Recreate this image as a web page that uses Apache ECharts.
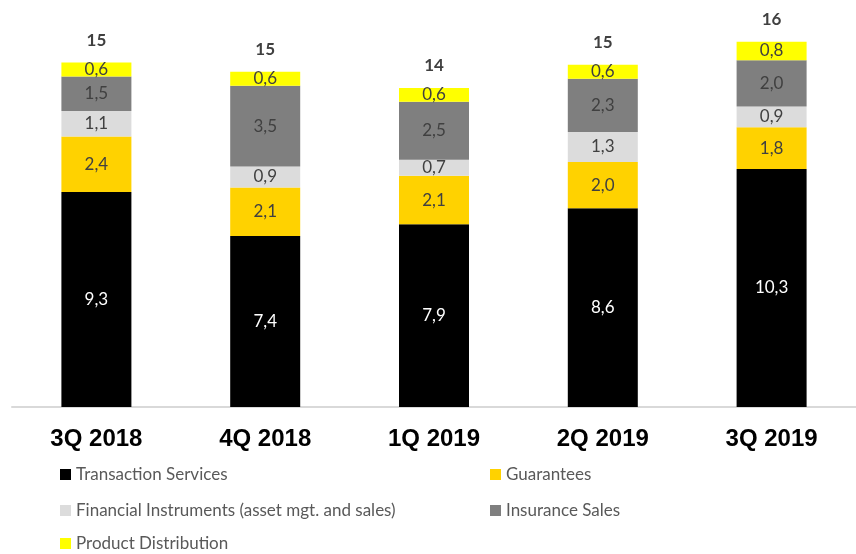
<!DOCTYPE html>
<html><head><meta charset="utf-8">
<script src="https://cdn.jsdelivr.net/npm/echarts@6/dist/echarts.min.js"></script>
<style>html,body{margin:0;padding:0;background:#fff}#c{width:856px;height:554px}</style>
</head><body><div id="c"></div>
<script>
var categories = ['3Q 2018', '4Q 2018', '1Q 2019', '2Q 2019', '3Q 2019'];
var transactionServices = [9.3, 7.4, 7.9, 8.6, 10.3];
var guarantees = [2.4, 2.1, 2.1, 2.0, 1.8];
var financialInstruments = [1.1, 0.9, 0.7, 1.3, 0.9];
var insuranceSales = [1.5, 3.5, 2.5, 2.3, 2.0];
var productDistribution = [0.6, 0.6, 0.6, 0.6, 0.8];
var totals = [15, 15, 14, 15, 16];

var names = ['Transaction Services', 'Guarantees', 'Financial Instruments (asset mgt. and sales)', 'Insurance Sales', 'Product Distribution'];
var colors = ['#000000', '#FFD200', '#DCDCDC', '#7F7F7F', '#FFFF00'];
var values = [transactionServices, guarantees, financialInstruments, insuranceSales, productDistribution];
var labelFont = 'Lato, "Noto Sans", sans-serif';

var series = names.map(function (n, i) {
  return {
    name: n, type: 'bar', stack: 'a', barWidth: 70,
    data: values[i],
    itemStyle: { color: colors[i] },
    label: {
      show: true, position: 'inside', fontSize: 17, fontFamily: labelFont,
      color: i === 0 ? '#ffffff' : '#404040',
      formatter: function (p) { return p.value.toFixed(1).replace('.', ','); }
    }
  };
});
series.push({
  name: 'total', type: 'bar', stack: 'a', barWidth: 70,
  data: totals.map(function () { return 0; }),
  itemStyle: { color: 'transparent' },
  label: {
    show: true, position: 'top', distance: 14, fontSize: 17, fontWeight: 'bold',
    fontFamily: labelFont, color: '#404040',
    formatter: function (p) { return String(totals[p.dataIndex]); }
  }
});

var legendPos = [[60, 466], [490, 466], [60, 502], [490, 502], [60, 535]];
var legends = names.map(function (n, i) {
  return {
    data: [n], left: legendPos[i][0], top: legendPos[i][1], padding: 0,
    itemWidth: 11, itemHeight: 11, icon: 'rect',
    textStyle: { fontSize: 17, color: '#595959', fontFamily: labelFont },
    selectedMode: false
  };
});

var chart = echarts.init(document.getElementById('c'));
chart.setOption({
  animation: false,
  grid: { left: 12, width: 850, top: 14, height: 393 },
  legend: legends,
  xAxis: {
    type: 'category', data: categories,
    axisLine: { lineStyle: { color: '#D9D9D9', width: 2 } },
    axisTick: { show: false },
    axisLabel: {
      margin: 20, fontSize: 24, fontWeight: 'bold', color: '#000000',
      fontFamily: '"Liberation Sans", Arial, sans-serif'
    }
  },
  yAxis: { type: 'value', min: 0, max: 17, show: false, splitLine: { show: false } },
  series: series
});
</script></body></html>
